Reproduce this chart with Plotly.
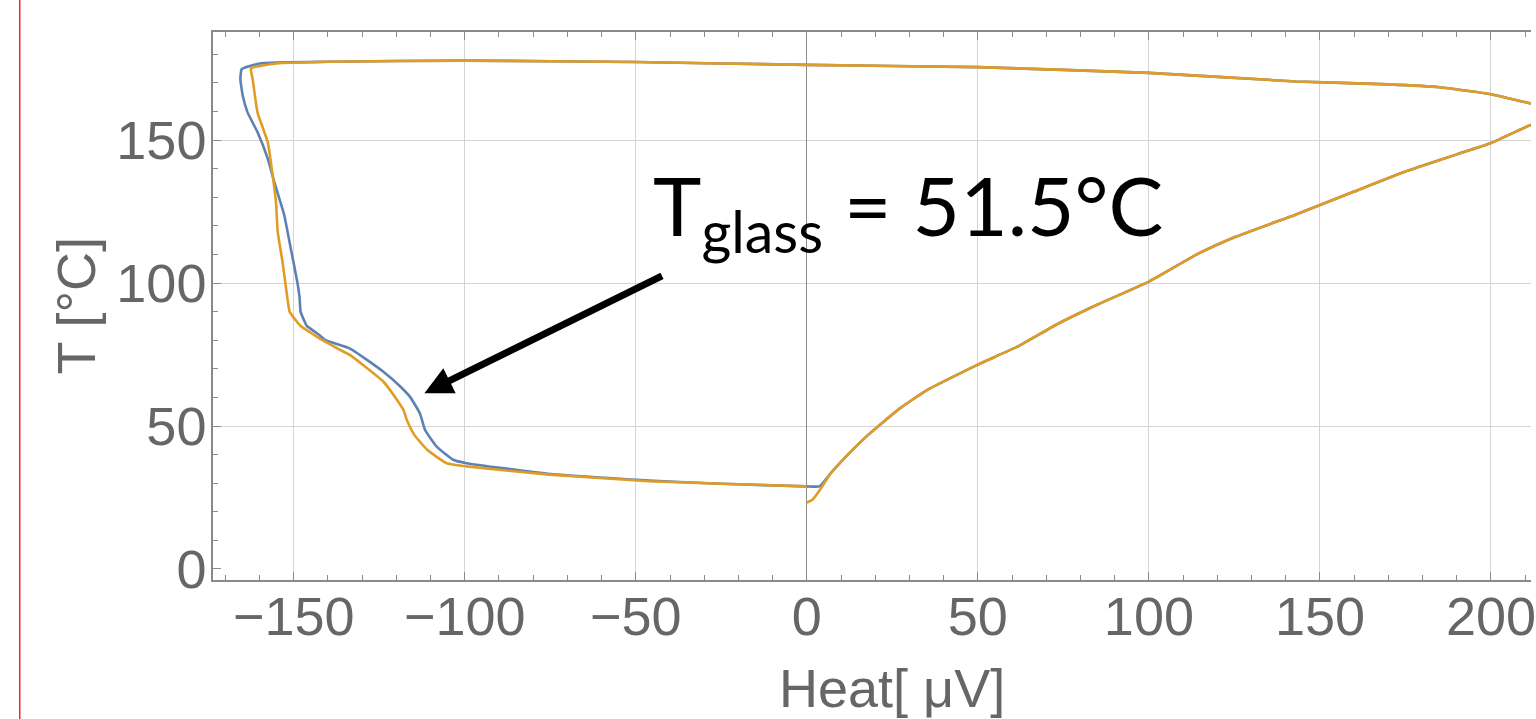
import plotly.graph_objects as go

# Orange series (drawn on top)
orange_heat = [0.0, -25, -46.2, -75.3, -99.5, -105.3, -111, -114.8, -116.9, -117.9, -120.3, -123.7,
               -133.4, -137, -141.6, -144.2, -148, -149.4, -151.2, -152, -153.3, -154.7, -155.2,
               -156.7, -157.6, -160.6, -162, -162.5, -155, -140, -100, -50, 0, 50, 100, 143,
               170, 185, 200, 211, 222, 220, 211, 200, 190, 175, 160, 143, 125, 114, 100, 85, 73,
               62, 50, 35, 27, 18, 12, 7, 4, 1.7, 0.0]
orange_temp = [28.9, 29.8, 30.7, 33, 35.9, 37, 41.7, 47, 52, 55.6, 60, 65.4,
               74.7, 77, 80, 82, 85, 87, 90, 96, 107.6, 118.1, 128.5,
               142.4, 149.3, 159.7, 171.3, 175.1, 176.8, 177.4, 177.8, 177.3, 176.3, 175.5, 173.5, 170.5,
               169.5, 168.5, 166, 163, 161.5, 159.5, 155, 149, 145, 139, 132, 124, 116, 110, 100.5, 92.5, 85.5,
               78, 71.5, 62.5, 56, 47, 40, 33.5, 28, 24.3, 23.2]

# Blue series
blue_heat = [3.7, 0.0, -25, -46.2, -75, -99.5, -103.4, -108.2, -111.6, -113.1, -116, -119, -123.7,
             -133.4, -140.7, -142.7, -146.2, -147, -148, -148.3, -148.9, -150.9, -152.8, -155.7,
             -157.6, -160.6, -163.5, -164.9, -165.6, -165.2, -160, -140, -100, -50, 0, 50, 100, 143,
             170, 185, 200, 211, 222, 220, 211, 200, 190, 175, 160, 143, 125, 114, 100, 85, 73,
             62, 50, 35, 27, 18, 12, 7, 3.7]
blue_temp = [28.9, 28.9, 29.8, 30.9, 33.2, 37, 38.2, 42.8, 48.6, 54.4, 60.2, 64, 68.9,
             77, 80, 82, 85, 87, 90, 95, 100, 112.3, 123.9, 135.4,
             143.5, 152.8, 159.7, 165.5, 171.3, 174.8, 176.8, 177.4, 177.8, 177.3, 176.3, 175.5, 173.5, 170.5,
             169.5, 168.5, 166, 163, 161.5, 159.5, 155, 149, 145, 139, 132, 124, 116, 110, 100.5, 92.5, 85.5,
             78, 71.5, 62.5, 56, 47, 40, 33.5, 28.9]

x_tickvals = [-150, -100, -50, 0, 50, 100, 150, 200]
y_tickvals = [0, 50, 100, 150]

BLUE = "#5E81B5"
ORANGE = "#E19C24"
AXIS = "#8a8a8a"
TEXT = "#666666"
FONT = "Liberation Sans, Arial, sans-serif"

fig = go.Figure()
fig.add_trace(go.Scatter(x=blue_heat, y=blue_temp, mode="lines",
                         line=dict(color=BLUE, width=2.6, shape="spline", smoothing=0.4),
                         showlegend=False))
fig.add_trace(go.Scatter(x=orange_heat, y=orange_temp, mode="lines",
                         line=dict(color=ORANGE, width=2.6, shape="spline", smoothing=0.4),
                         showlegend=False))

W, H = 1536, 719
ML, MR, MT, MB = 213, 0, 32, 139

fig.update_layout(
    width=W, height=H,
    margin=dict(l=ML, r=MR, t=MT, b=MB, pad=0),
    paper_bgcolor="white", plot_bgcolor="white",
    font=dict(family=FONT, color=TEXT, size=54),
    xaxis=dict(range=[-173.6, 211.7], tickvals=x_tickvals,
               showgrid=True, gridcolor="#d4d4d4", gridwidth=1,
               zeroline=True, zerolinecolor="#8c8c8c", zerolinewidth=1.3,
               showline=True, linecolor=AXIS, linewidth=1.5, mirror="ticks",
               ticks="inside", ticklen=8, tickcolor=AXIS, tickwidth=1.2,
               minor=dict(dtick=10, tick0=0, ticks="inside", ticklen=5, tickcolor=AXIS,
                          tickwidth=1, showgrid=False),
               tickfont=dict(size=54, color=TEXT, family=FONT), ticklabelstandoff=-12,
               ticklabeloverflow="allow", fixedrange=True),
    yaxis=dict(range=[-3.85, 187.8], tickvals=y_tickvals,
               showgrid=True, gridcolor="#d4d4d4", gridwidth=1,
               zeroline=True, zerolinecolor="rgba(0,0,0,0)",
               showline=True, linecolor=AXIS, linewidth=1.5, mirror=False,
               ticks="inside", ticklen=8, tickcolor=AXIS, tickwidth=1.2,
               minor=dict(dtick=10, tick0=0, ticks="inside", ticklen=5, tickcolor=AXIS,
                          tickwidth=1, showgrid=False),
               tickfont=dict(size=54, color=TEXT, family=FONT), ticklabelstandoff=-6,
               ticklabeloverflow="allow", fixedrange=True),
)

pw = W - ML - MR
ph = H - MT - MB

def px_to_paper_x(px):
    return (px - ML) / pw

def px_to_paper_y(py):
    return (H - MB - py) / ph

# Axis titles
fig.add_annotation(text="Heat[ μV]", xref="paper", yref="paper",
                   x=px_to_paper_x(895), y=px_to_paper_y(688), xanchor="center", yanchor="middle",
                   showarrow=False, font=dict(size=54, color=TEXT, family=FONT))
fig.add_annotation(text="T [°C]", xref="paper", yref="paper", textangle=-90,
                   x=px_to_paper_x(75), y=px_to_paper_y(306), xanchor="center", yanchor="middle",
                   showarrow=False, font=dict(size=54, color=TEXT, family=FONT))

# Glass transition annotation
fig.add_annotation(text="T<sub>glass</sub> = 51.5°C", xref="x", yref="y",
                   x=-45.5, y=125.5, xanchor="left", yanchor="middle", showarrow=False,
                   font=dict(size=82, color="black", family="Lato, Carlito, sans-serif"))
fig.add_annotation(text="", xref="x", yref="y", axref="x", ayref="y",
                   x=-111.8, y=61.5, ax=-41.9, ay=102.8,
                   showarrow=True, arrowhead=2, arrowsize=0.8, arrowwidth=7,
                   arrowcolor="black", standoff=0)

# Red vertical line at the left edge
fig.add_shape(type="line", xref="paper", yref="paper",
              x0=px_to_paper_x(19), x1=px_to_paper_x(19),
              y0=px_to_paper_y(0), y1=px_to_paper_y(719),
              line=dict(color="#ff2020", width=1.5))

fig.write_html("out.html", config={"displayModeBar": False},
               post_script="document.body.style.margin='0';document.body.style.overflow='hidden';")
